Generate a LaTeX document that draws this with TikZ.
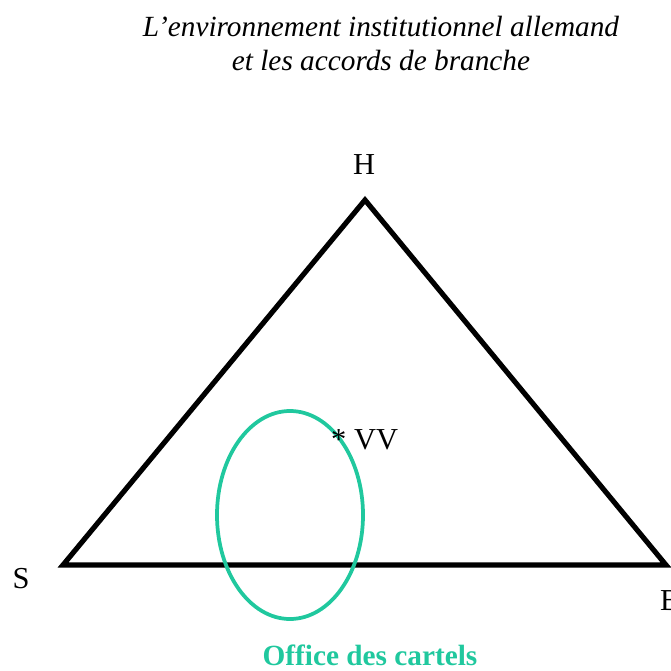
\documentclass[tikz,border=0pt]{standalone}
\usepackage{fontspec}
\setmainfont{Liberation Serif}
\usepackage{xcolor}
\usetikzlibrary{positioning,calc}

\definecolor{cartel}{RGB}{32,200,158}

\begin{document}
\begin{tikzpicture}[
    x=0.03cm, y=-0.03cm,
    side/.style={line width=4.4pt, line join=miter, draw=black},
    lbl/.style={font=\fontsize{26}{30}\selectfont, inner sep=0pt},
    ttl/.style={font=\itshape\fontsize{25}{29}\selectfont, align=center, inner sep=0pt},
    office/.style={draw=cartel, line width=3.2pt}
]
    \useasboundingbox (0,0) rectangle (671,670);

    % sommets
    \coordinate (h) at (365,200);
    \coordinate (s) at (63,565);
    \coordinate (b) at (666,565);

    \node [ttl] (title) at (381,43) {L'environnement institutionnel allemand\\et les accords de branche};

    \draw [side] (s) -- (h) -- (b) -- cycle;

    \node [lbl] (lh) at (364,165) {H};
    \node [lbl] (ls) at (21,579) {S};
    \node [lbl, anchor=west] (lb) at (660,601) {B};

    % office des cartels
    \draw [office] (290,515) ellipse [x radius=73, y radius=104];
    \node [font=\bfseries\fontsize{25}{29}\selectfont, text=cartel, inner sep=0pt] (oc) at (370,655) {Office des cartels};

    \node [lbl, anchor=west] (vv) at (331,440) {* VV};
\end{tikzpicture}
\end{document}
